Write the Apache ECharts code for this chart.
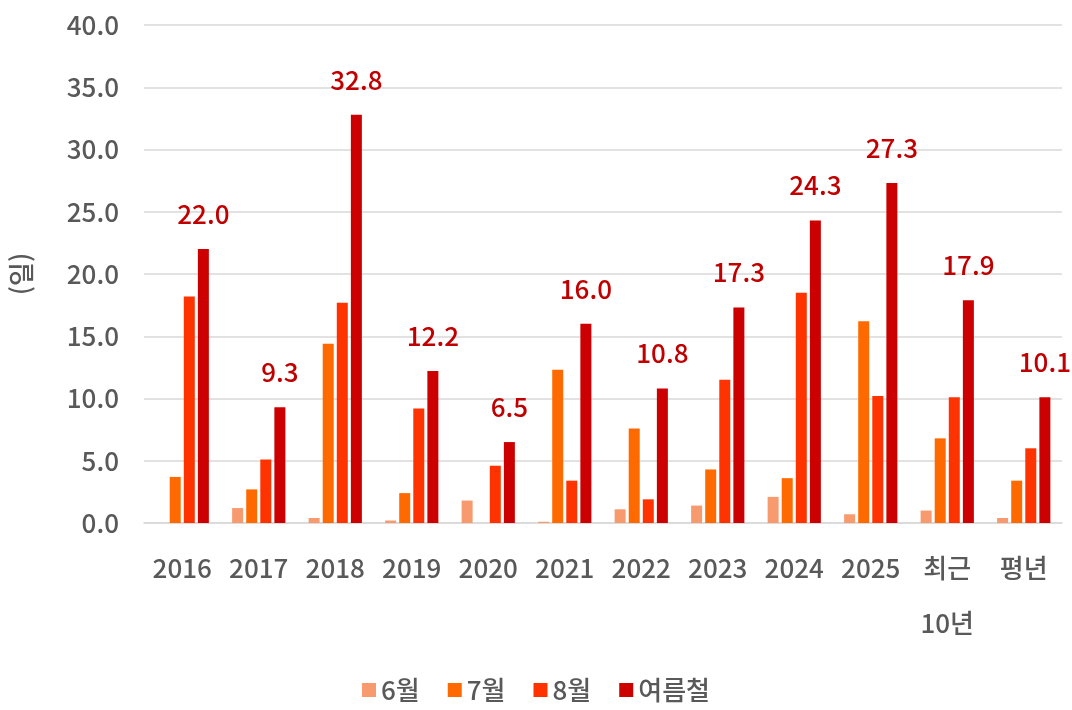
<!DOCTYPE html>
<html lang="ko">
<head>
    <meta charset="UTF-8">
    <title>여름철 일수</title>
    <script src="https://cdn.jsdelivr.net/npm/echarts@6/dist/echarts.min.js"></script>
    <style>
        html, body { margin: 0; padding: 0; background: #fff; }
        .chart { width: 1072px; height: 710px; }
    </style>
</head>
<body>
<div class="chart"></div>
<script>
    // 연도(구분)
    let categories = ['2016', '2017', '2018', '2019', '2020', '2021', '2022', '2023', '2024', '2025', '최근\n10년', '평년'];

    // 월별 일수
    let june = [0, 1.2, 0.4, 0.2, 1.8, 0.1, 1.1, 1.4, 2.1, 0.7, 1.0, 0.4];
    let july = [3.7, 2.7, 14.4, 2.4, 0, 12.3, 7.6, 4.3, 3.6, 16.2, 6.8, 3.4];
    let august = [18.2, 5.1, 17.7, 9.2, 4.6, 3.4, 1.9, 11.5, 18.5, 10.2, 10.1, 6.0];
    let summer = [22.0, 9.3, 32.8, 12.2, 6.5, 16.0, 10.8, 17.3, 24.3, 27.3, 17.9, 10.1];

    let seriesNames = ['6월', '7월', '8월', '여름철'];
    let colors = ['#F79A6E', '#FF6A00', '#FF3300', '#CC0000'];

    let font = '"Noto Sans CJK KR", "Noto Sans", sans-serif';
    let textColor = '#595959';
    let chart = echarts.init(document.querySelector('.chart'));

    let makeBar = (name, data, i) => ({
        name,
        type: 'bar',
        data,
        barWidth: 11,
        barGap: '28%',
        itemStyle: {color: colors[i]},
        label: i === 3 ? {
            show: true,
            position: 'top',
            distance: 22,
            color: '#C00000',
            fontSize: 26,
            fontWeight: 500,
            fontFamily: font,
            formatter: p => p.value.toFixed(1)
        } : {show: false}
    });

    let option = {
        animation: false,
        color: colors,
        grid: {left: 143, right: 10, top: 25, bottom: 187},
        legend: {
            bottom: 2,
            left: 'center',
            itemWidth: 14,
            itemHeight: 14,
            itemGap: 28,
            icon: 'rect',
            textStyle: {color: textColor, fontSize: 26, fontWeight: 500, fontFamily: font},
            data: seriesNames
        },
        xAxis: {
            type: 'category',
            data: categories,
            axisLine: {lineStyle: {color: '#D9D9D9', width: 1.5}},
            axisTick: {show: false},
            axisLabel: {
                color: textColor,
                fontSize: 26,
                fontWeight: 500,
                fontFamily: font,
                lineHeight: 55,
                margin: 18,
                interval: 0
            }
        },
        yAxis: {
            type: 'value',
            min: 0,
            max: 40,
            interval: 5,
            name: '(일)',
            nameLocation: 'middle',
            nameGap: 110,
            nameTextStyle: {color: textColor, fontSize: 26, fontWeight: 500, fontFamily: font},
            axisLine: {show: false},
            axisTick: {show: false},
            splitLine: {lineStyle: {color: '#D9D9D9', width: 1.5}},
            axisLabel: {
                color: textColor,
                fontSize: 26,
                fontWeight: 500,
                fontFamily: font,
                margin: 25,
                formatter: v => v.toFixed(1)
            }
        },
        series: [june, july, august, summer].map((d, i) => makeBar(seriesNames[i], d, i))
    };

    chart.setOption(option);
</script>
</body>
</html>
